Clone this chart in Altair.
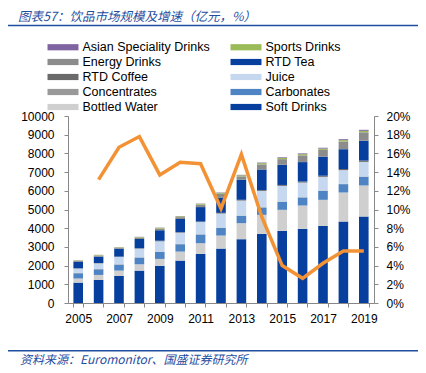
import altair as alt
import pandas as pd

years = [str(y) for y in range(2005, 2020)]

# stack order: bottom -> top
stack_series = ["Soft Drinks", "Bottled Water", "Carbonates", "Concentrates", "Juice",
                "RTD Coffee", "RTD Tea", "Energy Drinks", "Sports Drinks", "Asian Speciality Drinks"]

soft_drinks   = [1090, 1232, 1446, 1732, 1982, 2268, 2625, 2910, 3411, 3696, 3857, 3964, 4125, 4357, 4625]
bottled_water = [220, 268, 286, 339, 375, 482, 571, 697, 857, 1018, 1125, 1249, 1392, 1553, 1660]
carbonates    = [280, 300, 320, 355, 373, 391, 463, 408, 391, 391, 426, 427, 480, 445, 462]
concentrates  = [20, 20, 20, 20, 20, 20, 20, 20, 20, 20, 20, 20, 20, 20, 20]
juice         = [230, 300, 390, 460, 550, 600, 650, 750, 800, 870, 835, 780, 730, 730, 780]
rtd_coffee    = [20, 20, 20, 25, 30, 30, 30, 35, 40, 45, 50, 55, 60, 60, 70]
rtd_tea       = [340, 340, 420, 490, 560, 700, 770, 820, 1070, 1100, 1080, 1040, 1020, 1060, 1060]
energy        = [50, 55, 45, 75, 85, 100, 130, 200, 180, 270, 300, 360, 360, 410, 450]
sports        = [25, 30, 30, 35, 40, 45, 45, 50, 60, 70, 70, 65, 70, 75, 80]
asian         = [10, 10, 10, 10, 15, 15, 15, 20, 25, 30, 35, 40, 45, 50, 55]

stack_values = [soft_drinks, bottled_water, carbonates, concentrates, juice,
                rtd_coffee, rtd_tea, energy, sports, asian]

growth_years = years[1:]
growth_pct = [13.2, 16.65, 17.8, 13.7, 15.05, 14.9, 10.1, 15.9, 9.2, 4.0, 2.64, 4.25, 5.56, 5.56]

# legend entries (filled column by column: left column first, then right column)
legend_order = ["Asian Speciality Drinks", "Energy Drinks", "RTD Coffee", "Concentrates", "Bottled Water",
                "Sports Drinks", "RTD Tea", "Juice", "Carbonates", "Soft Drinks"]
legend_colors = ["#8064a2", "#8c8c8c", "#6a6a6a", "#999999", "#cfcfcf",
                 "#9bbb59", "#063f9e", "#c6d8ef", "#4e84c4", "#063f9e"]

left_ticks = list(range(0, 10001, 1000))
right_ticks = [i / 100 for i in range(0, 21, 2)]
shown_year_labels = ["2005", "2007", "2009", "2011", "2013", "2015", "2017", "2019"]

title_text = "图表57：饮品市场规模及增速（亿元，%）"
source_text = "资料来源：Euromonitor、国盛证券研究所"

rows = []
for idx, (name, vals) in enumerate(zip(stack_series, stack_values)):
    for y, v in zip(years, vals):
        rows.append({"year": y, "series": name, "value": v, "idx": idx})
bar_df = pd.DataFrame(rows)
line_df = pd.DataFrame({"year": growth_years, "growth": [g / 100 for g in growth_pct]})

label_expr = "indexof(" + str(shown_year_labels) + ", datum.label) >= 0 ? datum.label : ''"

x_enc = alt.X("year:N", sort=years,
              scale=alt.Scale(paddingInner=0.53, paddingOuter=0.265),
              axis=alt.Axis(title=None, labelAngle=0, labelExpr=label_expr, tickBand="extent",
                            tickSize=4, labelPadding=6))

bars = alt.Chart(bar_df).mark_bar().encode(
    x=x_enc,
    y=alt.Y("value:Q", stack="zero", scale=alt.Scale(domain=[0, 10000], nice=False),
            axis=alt.Axis(title=None, values=left_ticks, format="d", tickSize=4, labelPadding=10)),
    color=alt.Color("series:N", scale=alt.Scale(domain=legend_order, range=legend_colors),
                    legend=alt.Legend(title=None, orient="none", legendX=-13, legendY=-77,
                                      columns=2, columnPadding=20, rowPadding=-1.2, padding=0,
                                      symbolType="M-2,-0.4H2V0.4H-2Z", symbolSize=240,
                                      symbolStrokeWidth=0, symbolOpacity=1, labelOffset=11.5,
                                      labelFont="Liberation Sans", labelFontSize=12.5,
                                      labelColor="#000000", labelLimit=300)),
    order=alt.Order("idx:Q", sort="ascending"),
)

line = alt.Chart(line_df).mark_line(color="#f39235", strokeWidth=3.5).encode(
    x=alt.X("year:N", sort=years),
    y=alt.Y("growth:Q", scale=alt.Scale(domain=[0, 0.2], nice=False),
            axis=alt.Axis(title=None, orient="right", format=".0%", values=right_ticks,
                          tickSize=4, labelPadding=8)),
)

one = alt.Data(values=[{}])
title_mark = alt.Chart(one).mark_text(align="left", baseline="middle", font="Noto Sans CJK SC",
                                      fontSize=12.5, fontStyle="italic", color="#1f4e9f").encode(
    x=alt.value(-50), y=alt.value(-99), text=alt.value(title_text))
title_rule = alt.Chart(one).mark_rule(color="#1f4e9f", strokeWidth=1.5).encode(
    x=alt.value(-60), x2=alt.value(350), y=alt.value(-90.5))
source_rule = alt.Chart(one).mark_rule(color="#1f4e9f", strokeWidth=1.5).encode(
    x=alt.value(-60), x2=alt.value(350), y=alt.value(234.7))
source_mark = alt.Chart(one).mark_text(align="left", baseline="middle", font="Noto Sans CJK SC",
                                       fontSize=12, fontStyle="italic", color="#1f4e9f").encode(
    x=alt.value(-48), y=alt.value(243.5), text=alt.value(source_text))

chart = alt.layer(bars, line, title_mark, title_rule, source_rule, source_mark).resolve_scale(
    y="independent"
).properties(
    width=306, height=187,
    padding={"left": 60, "top": 108, "right": 44, "bottom": 62},
    autosize=alt.AutoSizeParams(type="none"),
    background="white",
).configure_axis(
    labelFont="Liberation Sans", labelFontSize=12, labelColor="#000000",
    domainColor="#888888", tickColor="#888888", grid=False,
).configure_view(stroke=None)

chart.save("out.html", embed_options={"renderer": "svg", "actions": False})
